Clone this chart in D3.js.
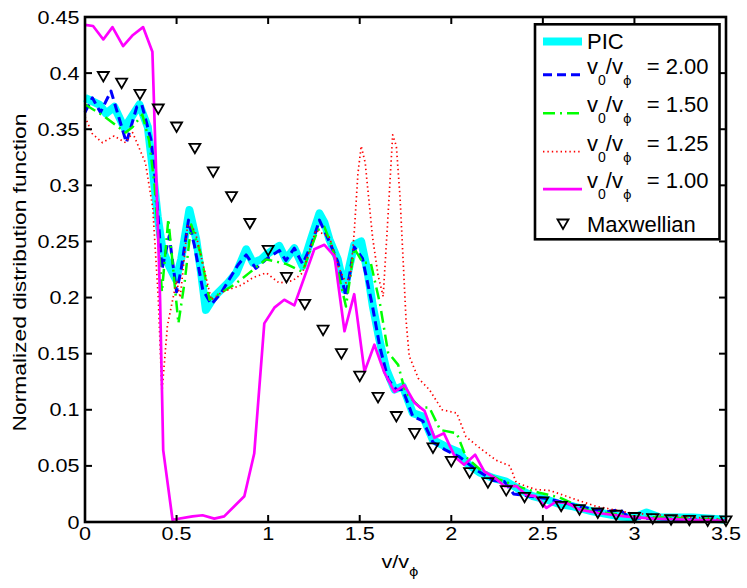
<!DOCTYPE html>
<html>
<head>
<meta charset="utf-8">
<script src="https://cdn.jsdelivr.net/npm/d3@7"></script>
<style>
  body { margin: 0; background: #fff; }
  text { font-family: "Liberation Sans", Arial, Helvetica, sans-serif; fill: #000; }
  .phi { font-family: "DejaVu Sans", sans-serif; fill: #000; }
</style>
</head>
<body>
<div id="chart"></div>
<script>
// tick values and labels (MATLAB style)
const velocityTicks = [0, 0.5, 1, 1.5, 2, 2.5, 3, 3.5];
const velocityTickLabels = ["0", "0.5", "1", "1.5", "2", "2.5", "3", "3.5"];
const densityTicks = [0, 0.05, 0.1, 0.15, 0.2, 0.25, 0.3, 0.35, 0.4, 0.45];
const densityTickLabels = ["0", "0.05", "0.1", "0.15", "0.2", "0.25", "0.3", "0.35", "0.4", "0.45"];

// PIC simulation
const picV = [0, 0.078, 0.115, 0.16, 0.215, 0.297, 0.343, 0.37, 0.397, 0.423, 0.46, 0.497, 0.525, 0.57, 0.607, 0.634, 0.66, 0.707, 0.78, 0.826, 0.88, 0.917, 0.962, 0.988, 1.061, 1.097, 1.143, 1.188, 1.234, 1.28, 1.307, 1.334, 1.38, 1.417, 1.444, 1.47, 1.508, 1.544, 1.572, 1.608, 1.645, 1.69, 1.735, 1.79, 1.845, 1.9, 1.973, 2.045, 2.08, 2.155, 2.23, 2.3, 2.373, 2.445, 2.52, 2.59, 2.665, 2.77, 2.92, 3.0, 3.066, 3.14, 3.32, 3.5];
const picF = [0.378, 0.372, 0.364, 0.370, 0.351, 0.372, 0.352, 0.314, 0.272, 0.243, 0.228, 0.216, 0.234, 0.278, 0.252, 0.222, 0.189, 0.201, 0.213, 0.222, 0.243, 0.231, 0.234, 0.238, 0.246, 0.234, 0.244, 0.228, 0.252, 0.275, 0.267, 0.252, 0.234, 0.207, 0.228, 0.247, 0.250, 0.222, 0.192, 0.162, 0.136, 0.118, 0.121, 0.097, 0.094, 0.073, 0.067, 0.062, 0.053, 0.044, 0.039, 0.036, 0.029, 0.023, 0.020, 0.016, 0.014, 0.0095, 0.005, 0.004, 0.0085, 0.004, 0.004, 0.002];

// v0/vphi = 2.00
const v200V = [0, 0.04, 0.084, 0.142, 0.226, 0.283, 0.31, 0.36, 0.387, 0.42, 0.46, 0.5, 0.525, 0.565, 0.598, 0.643, 0.69, 0.743, 0.835, 0.88, 0.933, 0.988, 1.061, 1.097, 1.143, 1.188, 1.234, 1.28, 1.334, 1.38, 1.425, 1.47, 1.515, 1.57, 1.61, 1.655, 1.7, 1.735, 1.79, 1.845, 1.9, 1.97, 2.045, 2.14, 2.23, 2.29, 2.34, 2.43, 2.52, 2.62, 2.75, 2.85, 2.92, 2.97, 3.1, 3.3, 3.5];
const v200F = [0.365, 0.378, 0.365, 0.384, 0.338, 0.370, 0.372, 0.341, 0.300, 0.225, 0.255, 0.205, 0.225, 0.269, 0.246, 0.207, 0.194, 0.204, 0.229, 0.238, 0.226, 0.234, 0.242, 0.233, 0.244, 0.230, 0.246, 0.269, 0.250, 0.232, 0.201, 0.245, 0.235, 0.192, 0.156, 0.127, 0.118, 0.118, 0.094, 0.090, 0.071, 0.064, 0.058, 0.046, 0.037, 0.036, 0.025, 0.023, 0.021, 0.017, 0.012, 0.009, 0.011, 0.004, 0.003, 0.002, 0.001];

// v0/vphi = 1.50
const v150V = [0, 0.1, 0.222, 0.26, 0.313, 0.35, 0.38, 0.42, 0.455, 0.51, 0.545, 0.58, 0.63, 0.68, 0.75, 0.82, 0.897, 0.988, 1.097, 1.188, 1.27, 1.307, 1.35, 1.425, 1.47, 1.517, 1.56, 1.61, 1.655, 1.71, 1.75, 1.83, 1.88, 1.94, 2.03, 2.08, 2.155, 2.26, 2.355, 2.48, 2.59, 2.75, 3.0, 3.3, 3.5];
const v150F = [0.372, 0.362, 0.347, 0.352, 0.363, 0.340, 0.300, 0.205, 0.270, 0.177, 0.215, 0.265, 0.240, 0.198, 0.205, 0.212, 0.222, 0.234, 0.230, 0.223, 0.260, 0.263, 0.245, 0.192, 0.244, 0.231, 0.231, 0.195, 0.151, 0.140, 0.115, 0.102, 0.102, 0.082, 0.079, 0.058, 0.047, 0.038, 0.032, 0.026, 0.022, 0.010, 0.005, 0.003, 0.002];

// v0/vphi = 1.25
const v125V = [0, 0.04, 0.095, 0.159, 0.222, 0.26, 0.33, 0.37, 0.4, 0.42, 0.45, 0.5, 0.52, 0.56, 0.6, 0.69, 0.75, 0.853, 0.92, 0.99, 1.06, 1.134, 1.188, 1.26, 1.334, 1.39, 1.425, 1.45, 1.47, 1.49, 1.508, 1.53, 1.57, 1.6, 1.628, 1.65, 1.68, 1.7, 1.72, 1.753, 1.77, 1.82, 1.88, 1.95, 2.03, 2.08, 2.155, 2.245, 2.32, 2.355, 2.46, 2.54, 2.68, 2.79, 2.98, 3.34, 3.5];
const v125F = [0.361, 0.346, 0.338, 0.344, 0.338, 0.347, 0.320, 0.280, 0.200, 0.115, 0.175, 0.215, 0.200, 0.265, 0.260, 0.198, 0.205, 0.211, 0.218, 0.222, 0.213, 0.215, 0.222, 0.260, 0.254, 0.225, 0.213, 0.220, 0.258, 0.310, 0.335, 0.320, 0.254, 0.220, 0.201, 0.260, 0.345, 0.335, 0.290, 0.180, 0.148, 0.128, 0.118, 0.100, 0.097, 0.076, 0.066, 0.055, 0.050, 0.035, 0.029, 0.028, 0.020, 0.014, 0.008, 0.004, 0.002];

// v0/vphi = 1.00
const v100V = [0, 0.044, 0.1, 0.15, 0.208, 0.262, 0.317, 0.368, 0.41, 0.427, 0.478, 0.587, 0.642, 0.706, 0.76, 0.87, 0.924, 0.979, 1.034, 1.088, 1.143, 1.252, 1.307, 1.362, 1.417, 1.47, 1.526, 1.58, 1.635, 1.69, 1.744, 1.8, 1.854, 1.908, 1.96, 2.02, 2.07, 2.13, 2.18, 2.24, 2.29, 2.355, 2.41, 2.46, 2.52, 2.57, 2.63, 2.7, 2.8, 2.95, 3.1, 3.3, 3.5];
const v100F = [0.443, 0.442, 0.430, 0.441, 0.424, 0.434, 0.441, 0.419, 0.198, 0.064, 0.002, 0.005, 0.006, 0.003, 0.005, 0.023, 0.061, 0.177, 0.191, 0.198, 0.193, 0.243, 0.247, 0.237, 0.170, 0.203, 0.134, 0.158, 0.133, 0.116, 0.122, 0.106, 0.099, 0.075, 0.079, 0.058, 0.051, 0.060, 0.045, 0.039, 0.032, 0.032, 0.024, 0.023, 0.0125, 0.018, 0.017, 0.011, 0.008, 0.005, 0.003, 0.002, 0.001];

// Maxwellian reference
const maxwellV = [0.1, 0.2, 0.3, 0.4, 0.5, 0.6, 0.7, 0.8, 0.9, 1.0, 1.1, 1.2, 1.3, 1.4, 1.5, 1.6, 1.7, 1.8, 1.9, 2.0, 2.1, 2.2, 2.3, 2.4, 2.5, 2.6, 2.7, 2.8, 2.9, 3.0, 3.1, 3.2, 3.3, 3.4, 3.5];
const maxwellF = [0.397, 0.391, 0.381, 0.368, 0.352, 0.333, 0.312, 0.290, 0.266, 0.242, 0.218, 0.194, 0.171, 0.150, 0.130, 0.111, 0.094, 0.079, 0.066, 0.054, 0.044, 0.035, 0.028, 0.022, 0.018, 0.014, 0.011, 0.008, 0.006, 0.004, 0.003, 0.002, 0.0015, 0.001, 0.001];

const series = [
  {label: "PIC", v: picV, f: picF, color: "#00ffff", width: 8, dash: null},
  {label: "2.00", v: v200V, f: v200F, color: "#0000ff", width: 3, dash: "9,5"},
  {label: "1.50", v: v150V, f: v150F, color: "#00ff00", width: 2.5, dash: "12,5,2,5"},
  {label: "1.25", v: v125V, f: v125F, color: "#ff0000", width: 1.7, dash: "1.4,3"},
  {label: "1.00", v: v100V, f: v100F, color: "#ff00ff", width: 2.7, dash: null}
];

const W = 747, H = 588;
const margin = {top: 17, right: 21, bottom: 66, left: 85};

const svg = d3.select("#chart").append("svg")
    .attr("width", W)
    .attr("height", H);

const x = d3.scaleLinear().domain([0, 3.5]).range([margin.left, W - margin.right]);
const y = d3.scaleLinear().domain([0, 0.45]).range([H - margin.bottom, margin.top]);

const line = d3.line()
    .x(d => x(d[0]))
    .y(d => y(d[1]));

// curves
series.forEach(s => {
  svg.append("path")
      .datum(d3.zip(s.v, s.f))
      .attr("fill", "none")
      .attr("stroke", s.color)
      .attr("stroke-width", s.width)
      .attr("stroke-dasharray", s.dash)
      .attr("stroke-linejoin", "round")
      .attr("d", line);
});

// Maxwellian markers
const tri = "M-5.5,-4.5L5.5,-4.5L0,5Z";
svg.append("g")
  .selectAll("path")
  .data(d3.zip(maxwellV, maxwellF))
  .join("path")
    .attr("transform", d => `translate(${x(d[0])},${y(d[1])})`)
    .attr("d", tri)
    .attr("fill", "none")
    .attr("stroke", "#000")
    .attr("stroke-width", 1.8);

// axes box with inward ticks on all sides
const x0 = x.range()[0], x1 = x.range()[1];
const y0 = y.range()[0], y1 = y.range()[1];
const tickLen = 7;
const axisG = svg.append("g").attr("stroke", "#000").attr("stroke-width", 2);

velocityTicks.forEach(t => {
  axisG.append("line").attr("x1", x(t)).attr("x2", x(t)).attr("y1", y0).attr("y2", y0 - tickLen);
  axisG.append("line").attr("x1", x(t)).attr("x2", x(t)).attr("y1", y1).attr("y2", y1 + tickLen);
});
densityTicks.forEach(t => {
  axisG.append("line").attr("x1", x0).attr("x2", x0 + tickLen).attr("y1", y(t)).attr("y2", y(t));
  axisG.append("line").attr("x1", x1).attr("x2", x1 - tickLen).attr("y1", y(t)).attr("y2", y(t));
});
svg.append("rect")
    .attr("x", x0).attr("y", y1)
    .attr("width", x1 - x0).attr("height", y0 - y1)
    .attr("fill", "none")
    .attr("stroke", "#000")
    .attr("stroke-width", 2.6);

// tick labels (slightly wide lettering like the original)
const tickFont = 18, stretch = 1.2;
velocityTicks.forEach((t, i) => {
  svg.append("text")
      .attr("transform", `translate(${x(t)},${y0 + 17.5}) scale(${stretch},1)`)
      .attr("text-anchor", "middle")
      .attr("font-size", tickFont)
      .text(velocityTickLabels[i]);
});
densityTicks.forEach((t, i) => {
  svg.append("text")
      .attr("transform", `translate(${x0 - 5.5},${y(t) + 6.5}) scale(${stretch},1)`)
      .attr("text-anchor", "end")
      .attr("font-size", tickFont)
      .text(densityTickLabels[i]);
});

// axis labels
const phi = "\u03d5";
const xLabel = svg.append("text")
    .attr("transform", `translate(400,568) scale(${stretch},1)`)
    .attr("text-anchor", "middle")
    .attr("font-size", tickFont);
xLabel.append("tspan").text("v/v");
xLabel.append("tspan").attr("class", "phi").attr("font-size", 12).attr("dy", 8).text(phi);

svg.append("text")
    .attr("transform", `translate(26,${(y0 + y1) / 2 + 3}) rotate(-90) scale(${stretch},1)`)
    .attr("text-anchor", "middle")
    .attr("font-size", 19)
    .text("Normalized distribution function");

// legend
const legend = svg.append("g");
legend.append("rect")
    .attr("x", 535).attr("y", 24.3)
    .attr("width", 184.5).attr("height", 215)
    .attr("fill", "#fff")
    .attr("stroke", "#000")
    .attr("stroke-width", 2.6);

const rowY = [41.5, 74.8, 113.2, 151.6, 189.2, 224];
const legFont = 22;
series.forEach((s, i) => {
  legend.append("line")
      .attr("x1", 543).attr("x2", 582)
      .attr("y1", rowY[i]).attr("y2", rowY[i])
      .attr("stroke", s.color)
      .attr("stroke-width", s.width)
      .attr("stroke-dasharray", s.dash);
  if (i === 0) {
    legend.append("text")
        .attr("x", 587).attr("y", rowY[i] + 7.8)
        .attr("font-size", legFont)
        .text(s.label);
  } else {
    const base = rowY[i] - 0.8;
    const t = legend.append("text")
        .attr("x", 587).attr("y", base)
        .attr("font-size", legFont);
    t.append("tspan").text("v");
    t.append("tspan").attr("font-size", 14).attr("dy", 11).text("0");
    t.append("tspan").attr("dy", -11).text("/v");
    t.append("tspan").attr("class", "phi").attr("font-size", 13).attr("dy", 11).text(phi);
    legend.append("text")
        .attr("x", 646.7).attr("y", base)
        .attr("font-size", legFont)
        .text("= " + s.label);
  }
});
legend.append("path")
    .attr("transform", `translate(563,${rowY[5]})`)
    .attr("d", tri)
    .attr("fill", "none")
    .attr("stroke", "#000")
    .attr("stroke-width", 1.8);
legend.append("text")
    .attr("x", 587).attr("y", rowY[5] + 7.8)
    .attr("font-size", legFont)
    .text("Maxwellian");
</script>
</body>
</html>
